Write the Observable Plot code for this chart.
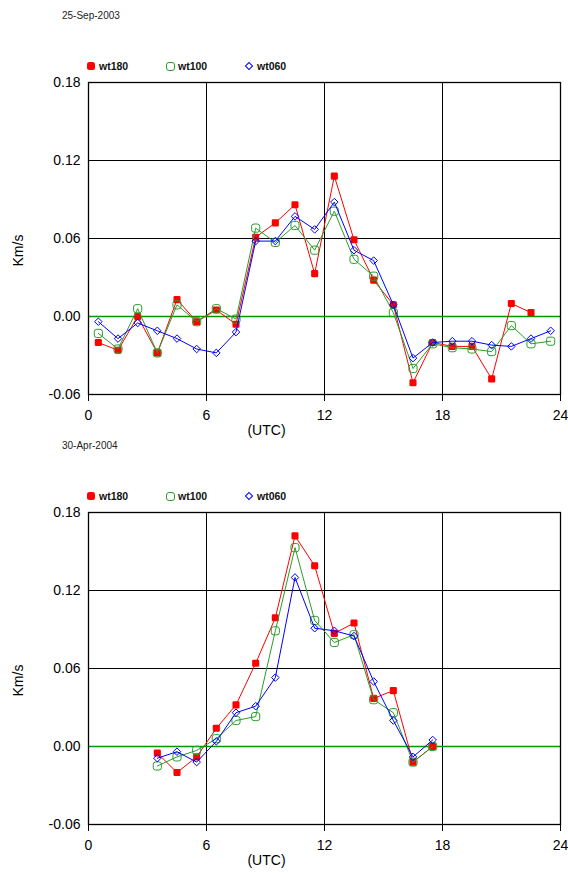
<!DOCTYPE html>
<html><head><meta charset="utf-8">
<script src="https://cdn.jsdelivr.net/npm/d3@7"></script>
<script src="https://cdn.jsdelivr.net/npm/@observablehq/plot@0.6"></script>
<style>
body{margin:0;background:#fff;font-family:"Liberation Sans",Arial,sans-serif;}
#wrap{position:relative;width:568px;height:873px;overflow:hidden;background:#fff;}
.abs{position:absolute;z-index:2;white-space:nowrap;line-height:12px;}
.title{font-size:10px;color:#222;}
.leg{font-size:10.5px;font-weight:bold;color:#111;}
.sw{position:absolute;z-index:2;box-sizing:border-box;}
.chart{position:absolute;left:0;}
</style></head><body><div id="wrap"></div>
<script>
// ---- data ----
const seriesNames = ["wt180", "wt100", "wt060"];
const seriesColors = ["#ff0000", "#2a9d2a", "#0000ff"];
const xTicks = [0, 6, 12, 18, 24];
const yTicks = [-0.06, 0, 0.06, 0.12, 0.18];
const gridX = [6, 12, 18];
const gridY = [0.06, 0.12];

const titleSep = "25-Sep-2003";
const hoursSep = [0.5,1.5,2.5,3.5,4.5,5.5,6.5,7.5,8.5,9.5,10.5,11.5,12.5,13.5,14.5,15.5,16.5,17.5,18.5,19.5,20.5,21.5,22.5,23.5];
const sepWt180 = [-0.020,-0.026,0.000,-0.028,0.013,-0.004,0.005,-0.006,0.061,0.072,0.086,0.033,0.108,0.059,0.028,0.009,-0.051,-0.020,-0.023,-0.023,-0.048,0.010,0.003,null];
const sepWt100 = [-0.013,-0.025,0.006,-0.028,0.009,-0.004,0.006,-0.002,0.068,0.057,0.070,0.051,0.081,0.044,0.031,0.003,-0.040,-0.021,-0.024,-0.025,-0.027,-0.007,-0.021,-0.019];
const sepWt060 = [-0.004,-0.017,-0.005,-0.011,-0.017,-0.025,-0.028,-0.012,0.058,0.058,0.077,0.067,0.088,0.051,0.043,0.009,-0.032,-0.020,-0.019,-0.019,-0.022,-0.023,-0.017,-0.011];

const titleApr = "30-Apr-2004";
const hoursApr = [3.5,4.5,5.5,6.5,7.5,8.5,9.5,10.5,11.5,12.5,13.5,14.5,15.5,16.5,17.5];
const aprWt180 = [-0.005,-0.020,-0.008,0.014,0.032,0.064,0.099,0.162,0.139,0.087,0.095,0.037,0.043,-0.012,0.000];
const aprWt100 = [-0.015,-0.008,-0.003,0.006,0.020,0.023,0.089,0.153,0.097,0.080,0.086,0.036,0.026,-0.012,0.000];
const aprWt060 = [-0.009,-0.004,-0.012,0.004,0.026,0.031,0.053,0.130,0.091,0.089,0.085,0.050,0.020,-0.008,0.005];

const yLabel = "Km/s";
const xLabel = "(UTC)";

// ---- drawing ----
const wrap = document.getElementById("wrap");
const FONT = "Liberation Sans, Arial, Helvetica, sans-serif";

// rounded-square symbol (corner radius as fraction of half side)
function roundSquare(frac) {
  return {
    draw(ctx, size) {
      const s = Math.sqrt(size) / 2, r = s * frac;
      ctx.moveTo(-s + r, -s);
      ctx.lineTo(s - r, -s);
      ctx.arcTo(s, -s, s, -s + r, r);
      ctx.lineTo(s, s - r);
      ctx.arcTo(s, s, s - r, s, r);
      ctx.lineTo(-s + r, s);
      ctx.arcTo(-s, s, -s, s - r, r);
      ctx.lineTo(-s, -s + r);
      ctx.arcTo(-s, -s, -s + r, -s, r);
      ctx.closePath();
    }
  };
}

function rows(hours, vals) {
  return hours.map((h, i) => ({h, v: vals[i]})).filter(d => d.v != null);
}

function addText(cls, text, x, y) {
  const d = document.createElement("div");
  d.className = "abs " + cls;
  d.textContent = text;
  d.style.left = x + "px";
  d.style.top = (y - 6) + "px";
  wrap.appendChild(d);
}

function addLegend(y) {
  const xs = [91, 170, 249];
  let s = document.createElement("div");
  s.className = "sw";
  Object.assign(s.style, {left: (xs[0]-4)+"px", top: (y-4)+"px", width:"8px", height:"8px", background: seriesColors[0], borderRadius:"2.5px"});
  wrap.appendChild(s);
  s = document.createElement("div");
  s.className = "sw";
  Object.assign(s.style, {left: (xs[1]-4.5)+"px", top: (y-4.5)+"px", width:"9px", height:"9px", border:"1px solid " + seriesColors[1], borderRadius:"3px"});
  wrap.appendChild(s);
  s = document.createElement("div");
  s.className = "sw";
  Object.assign(s.style, {left: (xs[2]-3)+"px", top: (y-3)+"px", width:"6px", height:"6px", border:"1px solid " + seriesColors[2], transform:"rotate(45deg)"});
  wrap.appendChild(s);
  seriesNames.forEach((n, i) => addText("leg", n, xs[i] + 8, y));
}

function makeChart(top, title, hours, s180, s100, s060, titleY, legY) {
  const r180 = rows(hours, s180), r100 = rows(hours, s100), r060 = rows(hours, s060);
  const chart = Plot.plot({
    width: 568, height: 372,
    marginTop: 10, marginBottom: 50, marginLeft: 88, marginRight: 8,
    style: {fontFamily: FONT, fontSize: "14px", background: "transparent", overflow: "visible", color: "#000"},
    x: {domain: [0, 24], ticks: xTicks, tickSize: 7, tickPadding: 9, label: null, tickFormat: d => String(d)},
    y: {domain: [-0.06, 0.18], ticks: yTicks, tickSize: 0, tickPadding: 8, label: null, tickFormat: d => d.toFixed(2)},
    marks: [
      Plot.ruleY(gridY, {stroke: "#000", strokeWidth: 1}),
      Plot.ruleX(gridX, {stroke: "#000", strokeWidth: 1}),
      Plot.ruleY([0], {stroke: "#009900", strokeWidth: 1.5}),
      Plot.frame({stroke: "#000", strokeWidth: 1.3}),
      Plot.line(r180, {x: "h", y: "v", stroke: seriesColors[0], strokeWidth: 1}),
      Plot.dot(r180, {x: "h", y: "v", symbol: roundSquare(0.35), fill: seriesColors[0], r: 4.0}),
      Plot.line(r100, {x: "h", y: "v", stroke: seriesColors[1], strokeWidth: 1}),
      Plot.dot(r100, {x: "h", y: "v", symbol: roundSquare(0.6), stroke: seriesColors[1], fill: "none", strokeWidth: 1, r: 4.6}),
      Plot.line(r060, {x: "h", y: "v", stroke: seriesColors[2], strokeWidth: 1}),
      Plot.dot(r060, {x: "h", y: "v", symbol: "diamond2", stroke: seriesColors[2], fill: "none", strokeWidth: 1, r: 3.4}),
      Plot.text([xLabel], {text: d => d, frameAnchor: "bottom", dx: -58, dy: 40, fontSize: 14, fill: "#000"}),
      Plot.text([yLabel], {text: d => d, frameAnchor: "left", rotate: -90, dx: -70, dy: 28, fontSize: 14, fill: "#000"})
    ]
  });
  chart.classList.add("chart");
  chart.style.top = top + "px";
  wrap.appendChild(chart);
  addText("title", title, 62, titleY);
  addLegend(legY);
}

makeChart(72, titleSep, hoursSep, sepWt180, sepWt100, sepWt060, 16, 66);
makeChart(502, titleApr, hoursApr, aprWt180, aprWt100, aprWt060, 446, 496);
</script></body></html>
